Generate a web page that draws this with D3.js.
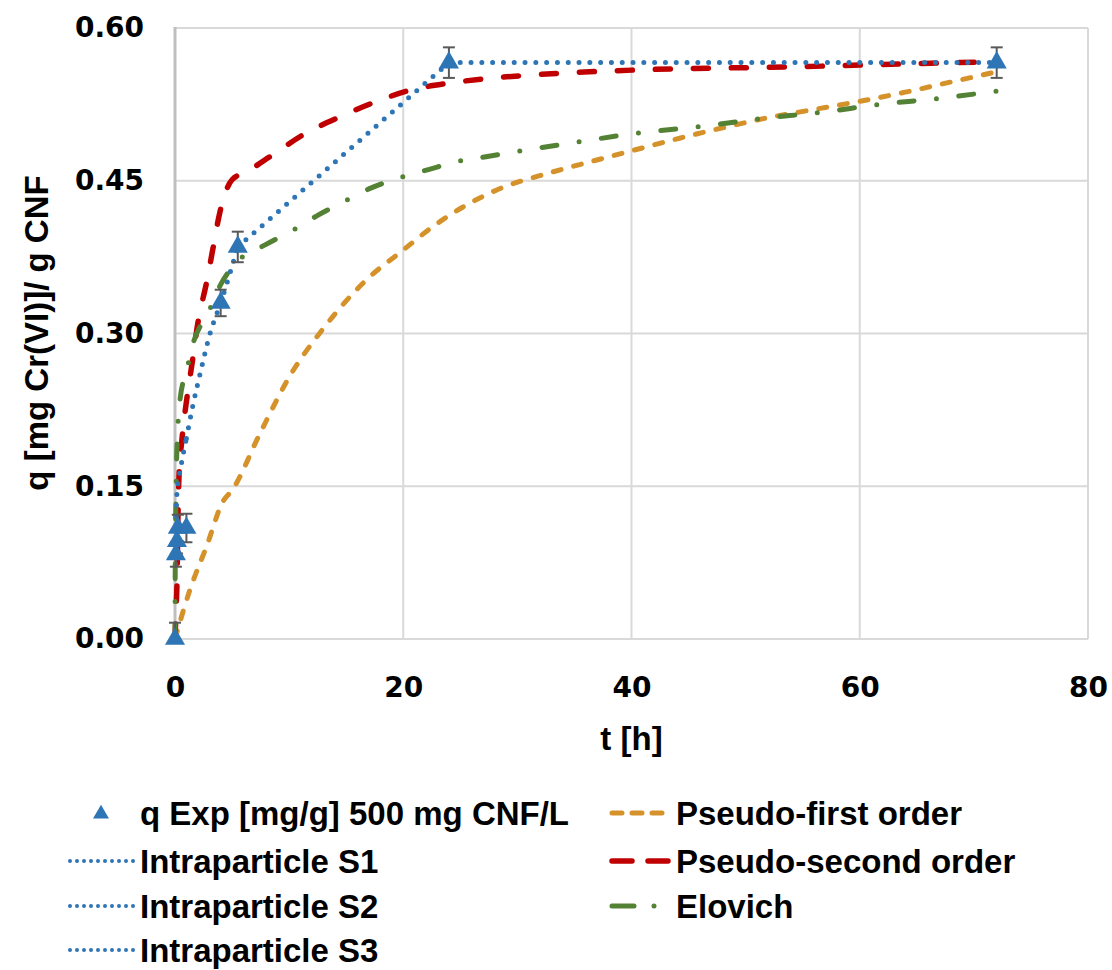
<!DOCTYPE html>
<html>
<head>
<meta charset="utf-8">
<script src="https://cdn.jsdelivr.net/npm/d3@7/dist/d3.min.js"></script>
<style>
  body { margin: 0; background: #ffffff; }
  svg { display: block; }
</style>
</head>
<body>
<svg id="chart" width="1112" height="970"></svg>
<script>
// Experimental uptake of Cr(VI) on CNF (500 mg CNF/L)
const expT   = [0, 0.08, 0.17, 0.25, 1, 4, 5.5, 24, 72];
const expQ   = [0, 0.083, 0.096, 0.109, 0.109, 0.33, 0.385, 0.566, 0.566];
const expErr = [0.016, 0.012, 0.012, 0.013, 0.014, 0.013, 0.015, 0.015, 0.015];

// Intraparticle diffusion stages
const s1T = [0.08, 0.17, 0.5, 1.0];
const s1Q = [0.11, 0.143, 0.168, 0.197];
const s2T = [1.0, 1.58, 2.19, 3.07, 4.0, 5.5];
const s2Q = [0.197, 0.23, 0.26, 0.30, 0.33, 0.385];
const s3T = [5.5, 24, 72];
const s3Q = [0.385, 0.566, 0.566];

// Pseudo-first order model
const pfoT = [0, 1.3, 2.8, 4.2, 5.0, 7.45, 10.1, 13, 16.8, 20, 22.6, 25.2, 28.2, 32.9, 36.5, 40.2, 44.3, 48, 52, 56, 60, 64, 68, 72];
const pfoQ = [0, 0.048, 0.092, 0.135, 0.146, 0.202, 0.259, 0.305, 0.353, 0.382, 0.405, 0.424, 0.441, 0.458, 0.469, 0.48, 0.492, 0.502, 0.512, 0.52, 0.528, 0.537, 0.547, 0.557];

// Pseudo-second order model
const psoT = [0, 0.1, 0.18, 0.26, 0.35, 0.6, 1.05, 1.5, 2.0, 2.8, 3.3, 3.95, 5.0, 6.3, 8.5, 11.2, 14.5, 17.7, 20.3, 24.1, 27, 31.4, 41, 54.7, 64.8, 72];
const psoQ = [0, 0.03, 0.058, 0.12, 0.16, 0.195, 0.237, 0.271, 0.31, 0.352, 0.382, 0.42, 0.451, 0.459, 0.475, 0.495, 0.513, 0.528, 0.538, 0.546, 0.55, 0.554, 0.559, 0.562, 0.565, 0.567];

// Elovich model
const eloT = [0, 0.01, 0.03, 0.08, 0.15, 0.44, 1.03, 1.58, 2.9, 4.0, 5.5, 7.9, 10.1, 12.5, 14.7, 17.2, 19.7, 22.2, 24.8, 27.5, 30.1, 35.3, 40.6, 45.9, 51.3, 56.5, 61.8, 67, 72];
const eloQ = [0, 0.04, 0.09, 0.135, 0.18, 0.235, 0.264, 0.29, 0.32, 0.348, 0.371, 0.387, 0.40, 0.416, 0.429, 0.443, 0.453, 0.461, 0.469, 0.474, 0.479, 0.488, 0.497, 0.503, 0.511, 0.517, 0.525, 0.531, 0.538];

// Axis ticks and labels
const xTicks = [0, 20, 40, 60, 80];
const yTicks = [0, 0.15, 0.30, 0.45, 0.60];
const xTitle = "t [h]";
const yTitle = "q [mg Cr(VI)]/ g CNF";
const legendLabels = [
  "q Exp [mg/g] 500 mg CNF/L", "Intraparticle S1", "Intraparticle S2", "Intraparticle S3",
  "Pseudo-first order", "Pseudo-second order", "Elovich"
];

const COLORS = {
  blue: "#2E75B6", red: "#C00000", orange: "#D6922A", green: "#548235",
  grid: "#D9D9D9", axis: "#BFBFBF", err: "#595959"
};

const svg = d3.select("#chart");
svg.append("rect").attr("width", 1112).attr("height", 970).attr("fill", "#fff");

const plot = { left: 175, right: 1088, top: 28, bottom: 639 };
const x = d3.scaleLinear().domain([0, 80]).range([plot.left, plot.right]);
const y = d3.scaleLinear().domain([0, 0.6]).range([plot.bottom, plot.top]);

const tickFont = "'DejaVu Sans', Verdana, sans-serif";
const textFont = "'Liberation Sans', Arial, sans-serif";

// Gridlines
const grid = svg.append("g");
grid.selectAll("line.h").data(yTicks.filter(d => d > 0)).join("line")
  .attr("x1", plot.left).attr("x2", plot.right)
  .attr("y1", d => y(d)).attr("y2", d => y(d))
  .attr("stroke", COLORS.grid).attr("stroke-width", 2);
grid.selectAll("line.v").data(xTicks.filter(d => d > 0)).join("line")
  .attr("x1", d => x(d)).attr("x2", d => x(d))
  .attr("y1", plot.top).attr("y2", plot.bottom)
  .attr("stroke", COLORS.grid).attr("stroke-width", 2);

// Axes
const yAxis = svg.append("g").attr("transform", `translate(${plot.left},0)`)
  .call(d3.axisLeft(y).tickValues(yTicks).tickFormat(d3.format(".2f")).tickSize(0).tickPadding(31));
const xAxis = svg.append("g").attr("transform", `translate(0,${plot.bottom})`)
  .call(d3.axisBottom(x).tickValues(xTicks).tickFormat(d3.format("d")).tickSize(0).tickPadding(38));
[yAxis, xAxis].forEach(g => {
  g.select(".domain").remove();
  g.selectAll("text").attr("font-family", tickFont).attr("font-weight", "bold")
    .attr("font-size", 28).attr("fill", "#000");
});
svg.append("line").attr("x1", plot.left).attr("x2", plot.right)
  .attr("y1", plot.bottom).attr("y2", plot.bottom)
  .attr("stroke", COLORS.grid).attr("stroke-width", 2);
svg.append("line").attr("x1", plot.left).attr("x2", plot.left)
  .attr("y1", plot.top - 1).attr("y2", plot.bottom + 1)
  .attr("stroke", COLORS.axis).attr("stroke-width", 3);

// Axis titles
svg.append("text").attr("x", x(40)).attr("y", 750).attr("text-anchor", "middle")
  .attr("font-family", textFont).attr("font-weight", "bold").attr("font-size", 33)
  .text(xTitle);
svg.append("text").attr("transform", "translate(48,333) rotate(-90)")
  .attr("text-anchor", "middle")
  .attr("font-family", textFont).attr("font-weight", "bold").attr("font-size", 33)
  .text(yTitle);

// Line styles
const styles = {
  dotted:  { color: COLORS.blue,   width: 5,   dash: "0 10.8" },
  pfo:     { color: COLORS.orange, width: 5,   dash: "8 13" },
  pso:     { color: COLORS.red,    width: 5.5, dash: "15 23" },
  elovich: { color: COLORS.green,  width: 5,   dash: "15 22.5 0 22.5" }
};

function drawSeries(ts, qs, style, curve) {
  const pts = ts.map((t, i) => [t, qs[i]]);
  const line = d3.line().x(d => x(d[0])).y(d => y(d[1])).curve(curve);
  svg.append("path").datum(pts).attr("d", line)
    .attr("fill", "none").attr("stroke", style.color)
    .attr("stroke-width", style.width).attr("stroke-dasharray", style.dash)
    .attr("stroke-linecap", "round").attr("stroke-linejoin", "round");
}

drawSeries(pfoT, pfoQ, styles.pfo, d3.curveMonotoneX);
drawSeries(psoT, psoQ, styles.pso, d3.curveMonotoneX);
drawSeries(eloT, eloQ, styles.elovich, d3.curveMonotoneX);
drawSeries(s1T, s1Q, styles.dotted, d3.curveMonotoneX);
drawSeries(s2T, s2Q, styles.dotted, d3.curveMonotoneX);
drawSeries(s3T, s3Q, styles.dotted, d3.curveLinear);

// Error bars (clipped at the plot floor)
const expPts = expT.map((t, i) => ({ t, q: expQ[i], e: expErr[i] }));
const eb = svg.append("g").attr("stroke", COLORS.err).attr("stroke-width", 2);
expPts.forEach(p => {
  const cx = x(p.t), yTop = y(p.q + p.e);
  const lowInside = p.q - p.e >= 0;
  const yBot = lowInside ? y(p.q - p.e) : plot.bottom;
  eb.append("line").attr("x1", cx).attr("x2", cx).attr("y1", yTop).attr("y2", yBot);
  eb.append("line").attr("x1", cx - 6).attr("x2", cx + 6).attr("y1", yTop).attr("y2", yTop);
  if (lowInside) {
    eb.append("line").attr("x1", cx - 6).attr("x2", cx + 6).attr("y1", yBot).attr("y2", yBot);
  }
});

// Experimental markers
const tri = d3.symbol().type(d3.symbolTriangle).size(175);
svg.append("g").selectAll("path").data(expPts).join("path")
  .attr("d", tri).attr("transform", d => `translate(${x(d.t)},${y(d.q)})`)
  .attr("fill", COLORS.blue);

// Legend
const leg = svg.append("g").attr("font-family", textFont).attr("font-weight", "bold")
  .attr("font-size", 33).attr("fill", "#000");
const rowY = [813, 861, 906, 950];
const col1 = { x0: 70, x1: 136, tx: 140 };
const col2 = { x0: 612, x1: 670, tx: 676 };

function legLine(x0, x1, yy, style) {
  leg.append("line").attr("x1", x0).attr("x2", x1).attr("y1", yy).attr("y2", yy)
    .attr("stroke", style.color).attr("stroke-width", style.width)
    .attr("stroke-dasharray", style.dash).attr("stroke-linecap", "round");
}
function legText(tx, yy, label) {
  leg.append("text").attr("x", tx).attr("y", yy).attr("dy", "0.36em").text(label);
}

leg.append("path").attr("d", d3.symbol().type(d3.symbolTriangle).size(110))
  .attr("transform", `translate(101,${rowY[0] + 1})`).attr("fill", COLORS.blue);
legText(col1.tx, rowY[0], legendLabels[0]);
for (let i = 1; i <= 3; i++) {
  legLine(col1.x0, col1.x1, rowY[i], { color: COLORS.blue, width: 4, dash: "0 7" });
  legText(col1.tx, rowY[i], legendLabels[i]);
}
legLine(col2.x0, col2.x1, rowY[0], { color: COLORS.orange, width: 5, dash: "10 10" });
legText(col2.tx, rowY[0], legendLabels[4]);
legLine(col2.x0, col2.x1, rowY[1], { color: COLORS.red, width: 5.5, dash: "20 16" });
legText(col2.tx, rowY[1], legendLabels[5]);
legLine(col2.x0, col2.x1, rowY[2], { color: COLORS.green, width: 5, dash: "22 20 0 40" });
legText(col2.tx, rowY[2], legendLabels[6]);
</script>
</body>
</html>
